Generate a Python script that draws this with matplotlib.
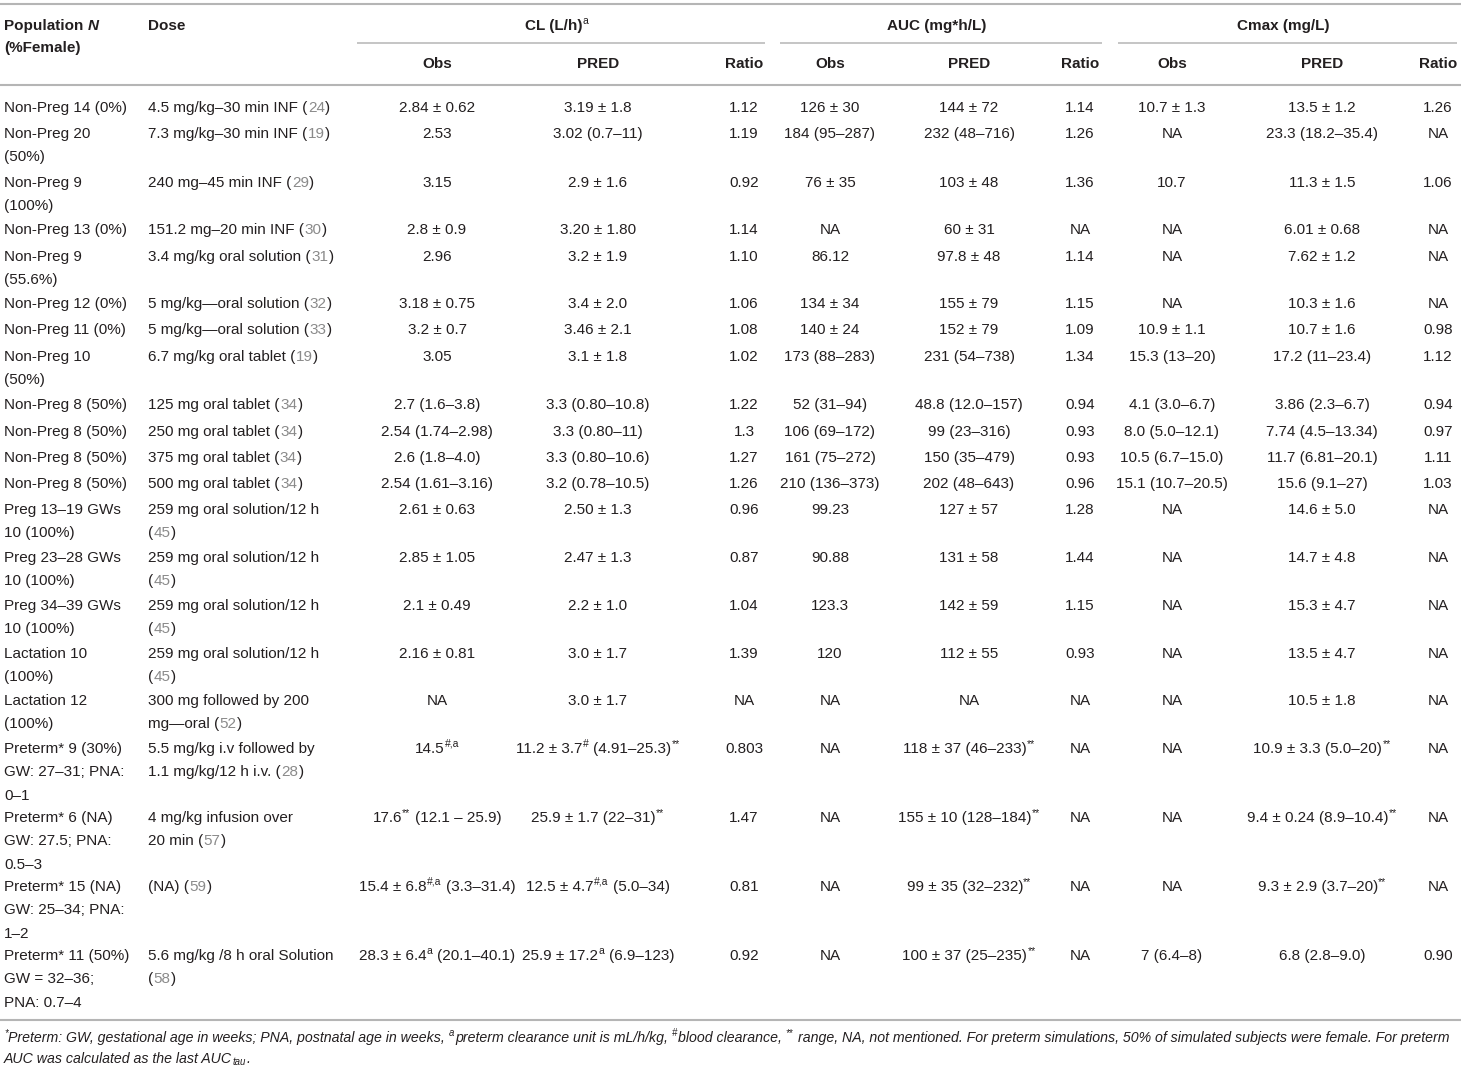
import re
import matplotlib
matplotlib.use("Agg")
import matplotlib.pyplot as plt

plt.rcParams['font.family'] = ['Liberation Sans', 'DejaVu Sans']

# ---- table content ----
population = [
    "Non-Preg 14 (0%)", "Non-Preg 20\n(50%)", "Non-Preg 9\n(100%)", "Non-Preg 13 (0%)",
    "Non-Preg 9\n(55.6%)", "Non-Preg 12 (0%)", "Non-Preg 11 (0%)", "Non-Preg 10\n(50%)",
    "Non-Preg 8 (50%)", "Non-Preg 8 (50%)", "Non-Preg 8 (50%)", "Non-Preg 8 (50%)",
    "Preg 13–19 GWs\n10 (100%)", "Preg 23–28 GWs\n10 (100%)", "Preg 34–39 GWs\n10 (100%)",
    "Lactation 10\n(100%)", "Lactation 12\n(100%)",
    "Preterm* 9 (30%)\nGW: 27–31; PNA:\n0–1", "Preterm* 6 (NA)\nGW: 27.5; PNA:\n0.5–3",
    "Preterm* 15 (NA)\nGW: 25–34; PNA:\n1–2", "Preterm* 11 (50%)\nGW = 32–36;\nPNA: 0.7–4",
]
dose = [
    "4.5 mg/kg–30 min INF", "7.3 mg/kg–30 min INF", "240 mg–45 min INF", "151.2 mg–20 min INF",
    "3.4 mg/kg oral solution", "5 mg/kg—oral solution", "5 mg/kg—oral solution",
    "6.7 mg/kg oral tablet", "125 mg oral tablet", "250 mg oral tablet", "375 mg oral tablet",
    "500 mg oral tablet", "259 mg oral solution/12 h\n", "259 mg oral solution/12 h\n",
    "259 mg oral solution/12 h\n", "259 mg oral solution/12 h\n", "300 mg followed by 200\nmg—oral",
    "5.5 mg/kg i.v followed by\n1.1 mg/kg/12 h i.v.", "4 mg/kg infusion over\n20 min", "(NA)",
    "5.6 mg/kg /8 h oral Solution\n",
]
dose_ref = ["24", "19", "29", "30", "31", "32", "33", "19", "34", "34", "34", "34",
            "45", "45", "45", "45", "52", "28", "57", "59", "58"]
cl_obs = ["2.84 ± 0.62", "2.53", "3.15", "2.8 ± 0.9", "2.96", "3.18 ± 0.75", "3.2 ± 0.7", "3.05",
          "2.7 (1.6–3.8)", "2.54 (1.74–2.98)", "2.6 (1.8–4.0)", "2.54 (1.61–3.16)",
          "2.61 ± 0.63", "2.85 ± 1.05", "2.1 ± 0.49", "2.16 ± 0.81", "NA",
          "14.5^{#,a}", "17.6^{**} (12.1 – 25.9)", "15.4 ± 6.8^{#,a} (3.3–31.4)",
          "28.3 ± 6.4^{a} (20.1–40.1)"]
cl_pred = ["3.19 ± 1.8", "3.02 (0.7–11)", "2.9 ± 1.6", "3.20 ± 1.80", "3.2 ± 1.9", "3.4 ± 2.0",
           "3.46 ± 2.1", "3.1 ± 1.8", "3.3 (0.80–10.8)", "3.3 (0.80–11)", "3.3 (0.80–10.6)",
           "3.2 (0.78–10.5)", "2.50 ± 1.3", "2.47 ± 1.3", "2.2 ± 1.0", "3.0 ± 1.7", "3.0 ± 1.7",
           "11.2 ± 3.7^{#} (4.91–25.3)^{**}", "25.9 ± 1.7 (22–31)^{**}",
           "12.5 ± 4.7^{#,a} (5.0–34)", "25.9 ± 17.2^{a} (6.9–123)"]
cl_ratio = ["1.12", "1.19", "0.92", "1.14", "1.10", "1.06", "1.08", "1.02", "1.22", "1.3", "1.27",
            "1.26", "0.96", "0.87", "1.04", "1.39", "NA", "0.803", "1.47", "0.81", "0.92"]
auc_obs = ["126 ± 30", "184 (95–287)", "76 ± 35", "NA", "86.12", "134 ± 34", "140 ± 24",
           "173 (88–283)", "52 (31–94)", "106 (69–172)", "161 (75–272)", "210 (136–373)",
           "99.23", "90.88", "123.3", "120", "NA", "NA", "NA", "NA", "NA"]
auc_pred = ["144 ± 72", "232 (48–716)", "103 ± 48", "60 ± 31", "97.8 ± 48", "155 ± 79", "152 ± 79",
            "231 (54–738)", "48.8 (12.0–157)", "99 (23–316)", "150 (35–479)", "202 (48–643)",
            "127 ± 57", "131 ± 58", "142 ± 59", "112 ± 55", "NA",
            "118 ± 37 (46–233)^{**}", "155 ± 10 (128–184)^{**}", "99 ± 35 (32–232)^{**}",
            "100 ± 37 (25–235)^{**}"]
auc_ratio = ["1.14", "1.26", "1.36", "NA", "1.14", "1.15", "1.09", "1.34", "0.94", "0.93", "0.93",
             "0.96", "1.28", "1.44", "1.15", "0.93", "NA", "NA", "NA", "NA", "NA"]
cmax_obs = ["10.7 ± 1.3", "NA", "10.7", "NA", "NA", "NA", "10.9 ± 1.1", "15.3 (13–20)",
            "4.1 (3.0–6.7)", "8.0 (5.0–12.1)", "10.5 (6.7–15.0)", "15.1 (10.7–20.5)",
            "NA", "NA", "NA", "NA", "NA", "NA", "NA", "NA", "7 (6.4–8)"]
cmax_pred = ["13.5 ± 1.2", "23.3 (18.2–35.4)", "11.3 ± 1.5", "6.01 ± 0.68", "7.62 ± 1.2",
             "10.3 ± 1.6", "10.7 ± 1.6", "17.2 (11–23.4)", "3.86 (2.3–6.7)", "7.74 (4.5–13.34)",
             "11.7 (6.81–20.1)", "15.6 (9.1–27)", "14.6 ± 5.0", "14.7 ± 4.8", "15.3 ± 4.7",
             "13.5 ± 4.7", "10.5 ± 1.8", "10.9 ± 3.3 (5.0–20)^{**}", "9.4 ± 0.24 (8.9–10.4)^{**}",
             "9.3 ± 2.9 (3.7–20)^{**}", "6.8 (2.8–9.0)"]
cmax_ratio = ["1.26", "NA", "1.06", "NA", "NA", "NA", "0.98", "1.12", "0.94", "0.97", "1.11",
              "1.03", "NA", "NA", "NA", "NA", "NA", "NA", "NA", "NA", "0.90"]

groups = ["CL (L/h)^{a}", "AUC (mg*h/L)", "Cmax (mg/L)"]
sub_cols = ["Obs", "PRED", "Ratio"]
footnote = [
    "^{*}Preterm: GW, gestational age in weeks; PNA, postnatal age in weeks, ^{a}preterm clearance "
    "unit is mL/h/kg, ^{#}blood clearance, ^{**} range, NA, not mentioned. For preterm simulations, "
    "50% of simulated subjects were female. For preterm",
    "AUC was calculated as the last AUC_{tau}.",
]

# ---- layout (pixels) ----
W, H = 1461, 1069
FS = 11
FOOT_FS = 10.15
TXT = "#231f20"
GREY = "#8a8a8a"
RULE = "#b5b5b5"
row_y = [106, 132, 181, 228, 255, 302, 328, 355, 403, 430, 456, 482, 508, 556, 604, 652,
         699, 747, 816, 885, 954]
LINE = 23.6
col_x = [437, 598, 744, 830, 969, 1080, 1172, 1322, 1438]
group_span = [(357, 765), (780, 1102), (1118, 1457)]

fig = plt.figure(figsize=(W / 100, H / 100), dpi=100)
ax = fig.add_axes([0, 0, 1, 1])
ax.set_xlim(0, W)
ax.set_ylim(H, 0)
ax.axis("off")

SEG = re.compile(r"\^\{(.*?)\}|_\{(.*?)\}|\[\[(.*?)\]\]|~\{(.*?)\}|([^\^_\[~]+)")
pending = []


def parse(s):
    out = []
    for m in SEG.finditer(s):
        sup, sub, grey, ital, plain = m.groups()
        if sup is not None:
            out.append(("sup", sup))
        elif sub is not None:
            out.append(("sub", sub))
        elif grey is not None:
            out.append(("grey", grey))
        elif ital is not None:
            out.append(("ital", ital))
        else:
            out.append(("plain", plain))
    return out


def rich(x, y, s, ha="left", weight="normal", style="normal", size=FS):
    segs = parse(s)
    # y is the visual middle of the line; convert to a baseline
    base = y + 0.36 * FS * 1.389
    if len(segs) == 1 and segs[0][0] == "plain":
        ax.text(x, base, s, ha=ha, va="baseline", fontsize=size, color=TXT,
                fontweight=weight, fontstyle=style)
        return
    texts = []
    prev = None
    trail = 0
    for kind, t in segs:
        lead = len(t) - len(t.lstrip(" "))
        tr = len(t) - len(t.rstrip(" "))
        t = t.strip(" ")
        kw = dict(fontsize=size, color=TXT, fontweight=weight, fontstyle=style,
                  va="baseline", ha="left")
        dy = 0
        pad = 0.35
        if kind == "sup":
            kw["fontsize"] = size * 0.68
            kw["fontweight"] = "normal"
            dy = size * 0.38
            pad = 0.1
        elif kind == "sub":
            kw["fontsize"] = size * 0.68
            dy = -size * 0.2
        elif kind == "grey":
            kw["color"] = GREY
        elif kind == "ital":
            kw["fontstyle"] = "italic"
        gap = (trail + lead) * 0.278 * size
        if not t:
            trail += lead
            continue
        if prev is None:
            obj = ax.text(x + gap * 1.389, base - dy * 1.389, t, **kw)
        else:
            obj = ax.annotate(t, xy=(1, base), xycoords=(prev, "data"),
                              xytext=(gap + pad, dy), textcoords="offset points", **kw)
        texts.append(obj)
        prev = obj
        trail = tr
    if ha == "center":
        pending.append((texts, x))


def cell(x, y, s, ha="center", **kw):
    for k, line in enumerate(s.split("\n")):
        if line:
            rich(x, y + k * LINE, line, ha=ha, **kw)


# ---- rules ----
ax.hlines([4, 85], 0, W, color=RULE, lw=1.5)
ax.hlines(1020, 0, W, color=RULE, lw=1.5)
for x0, x1 in group_span:
    ax.hlines(42.5, x0, x1, color=RULE, lw=1.1)

# ---- header ----
rich(4, 24, "Population ~{N}", weight="bold")
rich(4, 46, "(%Female)", weight="bold")
rich(148, 24, "Dose", weight="bold")
for (x0, x1), g in zip(group_span, groups):
    rich((x0 + x1) / 2 - 4, 24, g, ha="center", weight="bold")
for i, x in enumerate(col_x):
    rich(x, 62, sub_cols[i % 3], ha="center", weight="bold")

# ---- body ----
value_cols = [cl_obs, cl_pred, cl_ratio, auc_obs, auc_pred, auc_ratio,
              cmax_obs, cmax_pred, cmax_ratio]
for r, y in enumerate(row_y):
    cell(4, y, population[r], ha="left")
    d_lines = dose[r].split("\n")
    d_lines[-1] = (d_lines[-1] + " " if d_lines[-1] else "") + "([[" + dose_ref[r] + "]])"
    cell(148, y, "\n".join(d_lines), ha="left")
    for x, col in zip(col_x, value_cols):
        cell(x, y, col[r])

# ---- footnote ----
rich(4, 1036, footnote[0], style="italic", size=FOOT_FS)
rich(4, 1057, footnote[1], style="italic", size=FOOT_FS)

# center the multi-part cells now that their widths are known
fig.canvas.draw()
renderer = fig.canvas.get_renderer()
for texts, cx in pending:
    boxes = [t.get_window_extent(renderer) for t in texts]
    left = min(b.x0 for b in boxes)
    right = max(b.x1 for b in boxes)
    first = texts[0]
    px, py = first.get_position()
    first.set_position((px + cx - (left + right) / 2, py))

fig.savefig("out.png", dpi=100, facecolor="white")
